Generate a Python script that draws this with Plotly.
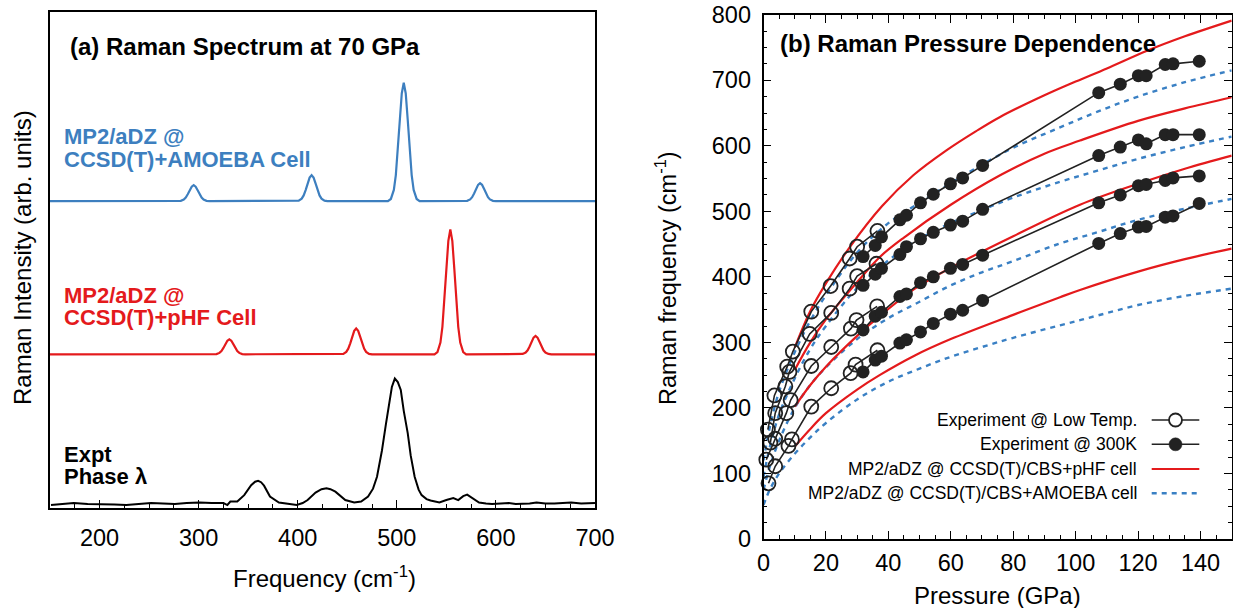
import plotly.graph_objects as go

W, H = 1233, 608

# ---------------- Panel (a): Raman spectra at 70 GPa ----------------
# AMOEBA-cell spectrum (intensity above its own baseline)
amoeba_freq = [150, 279, 282, 285, 287, 289, 291, 293, 295, 297, 299, 301, 303, 305, 308, 311,
               398, 401, 404, 406, 408, 410, 412, 414, 416, 418, 420, 422, 424, 427, 430,
               491, 494, 497, 499, 501, 503, 505, 507, 509, 511, 513, 515, 517, 520, 523,
               568, 571, 574, 576, 578, 580, 582, 584, 586, 588, 590, 592, 594, 597, 600, 700]
amoeba_int = [0, 0, 0.06, 0.30, 0.70, 1.37, 2.19, 2.91, 3.2, 2.91, 2.19, 1.37, 0.70, 0.30, 0.06, 0,
              0, 0.09, 0.49, 1.14, 2.22, 3.56, 4.73, 5.2, 4.73, 3.56, 2.22, 1.14, 0.49, 0.09, 0,
              0, 0.43, 2.25, 5.26, 10.2, 16.4, 21.7, 23.9, 21.7, 16.4, 10.2, 5.26, 2.25, 0.43, 0,
              0, 0.06, 0.34, 0.79, 1.54, 2.47, 3.28, 3.6, 3.28, 2.47, 1.54, 0.79, 0.34, 0.06, 0, 0]

# pHF-cell spectrum
phf_freq = [150, 315, 318, 321, 323, 325, 327, 329, 331, 333, 335, 337, 339, 341, 344, 347,
            443, 446, 449, 451, 453, 455, 457, 459, 461, 463, 465, 467, 469, 472, 475,
            538, 541, 544, 546, 548, 550, 552, 554, 556, 558, 560, 562, 564, 567, 570,
            624, 627, 630, 632, 634, 636, 638, 640, 642, 644, 646, 648, 650, 653, 656, 700]
phf_int = [0, 0, 0.05, 0.28, 0.66, 1.28, 2.06, 2.73, 3.0, 2.73, 2.06, 1.28, 0.66, 0.28, 0.05, 0,
           0, 0.09, 0.49, 1.14, 2.22, 3.56, 4.73, 5.2, 4.73, 3.56, 2.22, 1.14, 0.49, 0.09, 0,
           0, 0.45, 2.37, 5.54, 10.8, 17.3, 22.9, 25.2, 22.9, 17.3, 10.8, 5.54, 2.37, 0.45, 0,
           0, 0.07, 0.35, 0.81, 1.58, 2.53, 3.37, 3.7, 3.37, 2.53, 1.58, 0.81, 0.35, 0.07, 0, 0]

# Experimental spectrum, phase lambda
expt_freq = [151, 162, 174, 188, 202, 215, 227, 240, 252, 264, 276, 288, 301, 313, 325, 329, 332,
             339, 346, 353, 357, 360, 363, 366, 372, 381, 392, 399, 405, 410, 418, 424, 429, 433,
             438, 448, 457, 464, 471, 476, 480, 485, 489, 492, 495, 498, 501, 504, 507, 511, 514,
             518, 522, 525, 530, 534, 543, 550, 557, 562, 567, 571, 574, 578, 583, 590, 596, 605,
             613, 620, 627, 634, 641, 650, 659, 668, 676, 686, 697, 700]
expt_int = [0.5, 0.7, 0.9, 0.7, 0.7, 0.6, 0.5, 0.7, 0.9, 0.8, 0.7, 0.9, 1.0, 0.9, 0.9, 0.5, 1.2,
            1.2, 2.5, 4.5, 5.2, 5.4, 5.1, 4.4, 2.2, 1.0, 0.7, 0.5, 0.9, 1.5, 3.0, 3.7, 3.9, 3.7,
            3.2, 1.5, 1.0, 1.2, 2.2, 3.8, 6.2, 11.5, 16.8, 21.0, 24.3, 26.0, 25.3, 23.7, 19.5, 15.0, 10.5,
            6.2, 3.6, 2.5, 1.7, 1.4, 1.0, 1.5, 1.9, 1.5, 2.3, 2.6, 2.2, 1.8, 1.0, 0.8, 0.7, 0.8,
            0.9, 0.7, 0.7, 0.8, 1.0, 0.8, 0.8, 0.9, 1.0, 0.8, 0.9, 0.9]

# ---------------- Panel (b): pressure dependence ----------------
# Experiment, low temperature (open circles), four modes A (highest) .. D (lowest)
lt_A_p = [1.4, 3.5, 7.6, 9.4, 15.3, 21.5, 27.6, 30.0, 36.5]
lt_A_f = [167, 219, 263, 286, 347, 386, 428, 446, 470]
lt_B_p = [2.2, 3.75, 7.0, 8.3, 14.8, 21.7, 27.6, 30.0, 36.2]
lt_B_f = [147, 192, 233, 255, 313, 345, 382, 401, 420]
lt_C_p = [0.9, 3.75, 7.3, 8.7, 15.3, 21.7, 28.0, 29.8, 36.4]
lt_C_f = [121, 153, 192, 212, 264, 293, 321, 334, 355]
lt_D_p = [1.6, 3.75, 8.0, 9.1, 15.3, 21.7, 27.9, 29.5, 36.5]
lt_D_f = [85, 111, 142, 152, 202, 230, 253, 266, 288]

# Experiment, 300 K (filled circles)
rt_p = [31.9, 35.8, 37.8, 43.7, 45.8, 50.3, 54.4, 59.9, 63.8, 70.2,
        107.4, 114.3, 120.1, 122.6, 128.7, 131.2, 139.6]
rt_A_f = [431, 448, 461, 487, 494, 513, 526, 542, 551, 570, 681, 694, 707, 707, 724, 725, 729]
rt_B_f = [387, 404, 413, 434, 446, 458, 468, 479, 485, 503, 585, 598, 609, 603, 617, 617, 617]
rt_C_f = [319, 340, 346, 370, 374, 391, 400, 413, 419, 433, 513, 525, 539, 541, 547, 551, 554]
rt_D_f = [255, 273, 279, 299, 304, 316, 329, 343, 349, 364, 451, 466, 476, 477, 491, 493, 512]

# MP2/aDZ @ CCSD(T)/CBS + pHF cell (red solid)
phf_A_p = [10, 15, 20, 27.6, 38, 48, 58.6, 68, 75.8, 90, 100, 110, 122.9, 135, 150]
phf_A_f = [292, 348, 390, 445, 508, 555, 593, 622, 644, 677, 698, 718, 745, 767, 791]
phf_B_p = [10, 15, 20, 30, 37.2, 45, 60, 75.8, 90, 101.4, 120, 135, 150]
phf_B_f = [258, 300, 335, 392, 430, 460, 510, 555, 588, 608, 638, 657, 674]
phf_C_p = [10, 15, 20, 30, 37.2, 48.5, 60, 80, 101.4, 120, 135, 150]
phf_C_f = [202, 235, 263, 310, 340, 382, 414, 462, 510, 542, 565, 585]
phf_D_p = [10, 15, 20, 30, 37.2, 48.5, 60, 80, 95, 101.4, 120, 135, 150]
phf_D_f = [141, 168, 192, 228, 250, 280, 305, 342, 369, 380, 408, 427, 443]

# MP2/aDZ @ CCSD(T)/CBS + AMOEBA cell (blue dotted)
amo_p = [0, 2, 5, 10, 15, 20, 30, 40, 50, 60, 70, 80, 95, 107, 120, 135, 150]
amo_A_f = [120, 170, 225, 285, 333, 372, 437, 482, 513, 543, 571, 597, 628, 652, 675, 697, 715]
amo_B_f = [95, 140, 190, 245, 290, 325, 383, 425, 458, 482, 502, 521, 545, 562, 580, 598, 614]
amo_C_f = [75, 110, 150, 200, 235, 262, 305, 337, 362, 387, 407, 424, 451, 468, 487, 504, 519]
amo_D_f = [52, 75, 100, 130, 155, 177, 213, 240, 260, 278, 293, 307, 326, 341, 357, 371, 382]

# ---------------- styling ----------------
FONT = "Liberation Sans, Arial, Helvetica, sans-serif"
BLUE_TXT = "#3d7fbf"
RED = "#e41a1c"
BLUE = "#3a80c4"
DARK = "#222222"
OFF_RED, OFF_BLUE = 30.9, 61.8   # vertical offsets of stacked spectra


def px(x):
    return x / W


def py(y):
    return 1 - y / H


fig = go.Figure()

# Panel (a) traces
fig.add_trace(go.Scatter(x=expt_freq, y=expt_int, mode="lines",
                         line=dict(color="black", width=2), xaxis="x", yaxis="y",
                         showlegend=False))
fig.add_trace(go.Scatter(x=phf_freq, y=[v + OFF_RED for v in phf_int], mode="lines",
                         line=dict(color=RED, width=2.2), xaxis="x", yaxis="y",
                         showlegend=False))
fig.add_trace(go.Scatter(x=amoeba_freq, y=[v + OFF_BLUE for v in amoeba_int], mode="lines",
                         line=dict(color=BLUE_TXT, width=2.2), xaxis="x", yaxis="y",
                         showlegend=False))

# Panel (b) theory curves
for p, f in [(amo_p, amo_A_f), (amo_p, amo_B_f), (amo_p, amo_C_f), (amo_p, amo_D_f)]:
    fig.add_trace(go.Scatter(x=p, y=f, mode="lines", line_shape="spline",
                             line=dict(color=BLUE, width=2.4, dash="5px,5px"),
                             xaxis="x2", yaxis="y2", showlegend=False))
for p, f in [(phf_A_p, phf_A_f), (phf_B_p, phf_B_f), (phf_C_p, phf_C_f), (phf_D_p, phf_D_f)]:
    fig.add_trace(go.Scatter(x=p, y=f, mode="lines", line_shape="spline",
                             line=dict(color=RED, width=2.2),
                             xaxis="x2", yaxis="y2", showlegend=False))

# Experiments
for p, f in [(lt_A_p, lt_A_f), (lt_B_p, lt_B_f), (lt_C_p, lt_C_f), (lt_D_p, lt_D_f)]:
    fig.add_trace(go.Scatter(x=p, y=f, mode="lines+markers",
                             line=dict(color=DARK, width=1.6),
                             marker=dict(symbol="circle-open", size=14,
                                         line=dict(color=DARK, width=1.8)),
                             cliponaxis=False, xaxis="x2", yaxis="y2", showlegend=False))
for f in [rt_A_f, rt_B_f, rt_C_f, rt_D_f]:
    fig.add_trace(go.Scatter(x=rt_p, y=f, mode="lines+markers",
                             line=dict(color=DARK, width=1.6),
                             marker=dict(symbol="circle", size=13, color=DARK),
                             cliponaxis=False, xaxis="x2", yaxis="y2", showlegend=False))

tickfont = dict(family=FONT, size=23.5, color="black")

fig.update_layout(
    width=W, height=H,
    margin=dict(l=0, r=0, t=0, b=0),
    paper_bgcolor="white", plot_bgcolor="white",
    font=dict(family=FONT, color="black"),
    showlegend=False,
    xaxis=dict(domain=[px(50), px(595)], range=[150, 700], dtick=100, tick0=0,
               ticks="inside", ticklen=8, tickwidth=1.3, tickcolor="black",
               minor=dict(ticks="inside", dtick=25, ticklen=4, tickwidth=1.1, tickcolor="black"),
               showline=True, linecolor="black", linewidth=1.6, mirror=True,
               showgrid=False, zeroline=False, tickfont=tickfont, ticklabelstandoff=8,
               automargin=False, anchor="y"),
    yaxis=dict(domain=[py(507.5), py(11.7)], range=[0, 100], showticklabels=False,
               ticks="", showline=True, linecolor="black", linewidth=1.6, mirror=True,
               showgrid=False, zeroline=False, automargin=False, anchor="x"),
    xaxis2=dict(domain=[px(763.5), px(1231.7)], range=[0, 150], dtick=20, tick0=0,
                ticks="inside", ticklen=8, tickwidth=1.3, tickcolor="black",
                minor=dict(ticks="inside", dtick=5, ticklen=4, tickwidth=1.1, tickcolor="black"),
                showline=True, linecolor="black", linewidth=1.6, mirror="allticks",
                showgrid=False, zeroline=False, tickfont=tickfont, ticklabelstandoff=2,
                automargin=False, anchor="y2"),
    yaxis2=dict(domain=[py(539), py(14.7)], range=[0, 800], dtick=100, tick0=0,
                ticks="inside", ticklen=8, tickwidth=1.3, tickcolor="black",
                minor=dict(ticks="inside", dtick=25, ticklen=4, tickwidth=1.1, tickcolor="black"),
                showline=True, linecolor="black", linewidth=1.6, mirror="allticks",
                showgrid=False, zeroline=False, tickfont=tickfont, ticklabelstandoff=6,
                automargin=False, anchor="x2"),
)

ann = []


def text(x, y, s, size, color="black", xanchor="left", angle=0):
    ann.append(dict(x=px(x), y=py(y), xref="paper", yref="paper", text=s, showarrow=False,
                    xanchor=xanchor, yanchor="middle", textangle=angle,
                    font=dict(family=FONT, size=size, color=color)))


# Panel titles and labels
text(68, 46.7, "<b>(a) Raman Spectrum at 70 GPa</b>", 24)
text(778, 43, "<b>(b) Raman Pressure Dependence</b>", 24)
text(62, 137, "<b>MP2/aDZ @</b>", 22, BLUE_TXT)
text(62, 159.5, "<b>CCSD(T)+AMOEBA Cell</b>", 22, BLUE_TXT)
text(62, 295, "<b>MP2/aDZ @</b>", 22, RED)
text(62, 317.5, "<b>CCSD(T)+pHF Cell</b>", 22, RED)
text(62, 454, "<b>Expt</b>", 22)
text(62, 476, "<b>Phase λ</b>", 22)

# Axis titles
text(22, 258, "Raman Intensity (arb. units)", 24, xanchor="center", angle=-90)
text(324, 577, "Frequency (cm<sup>-1</sup>)", 24, xanchor="center")
text(666, 278, "Raman frequency (cm<sup>-1</sup>)", 23.5, xanchor="center", angle=-90)
text(997, 595.5, "Pressure (GPa)", 24, xanchor="center")

# Custom legend (text left, sample right)
leg_rows = [420, 444.3, 469, 493.3]
leg_labels = ["Experiment @ Low Temp.", "Experiment @ 300K",
              "MP2/aDZ @ CCSD(T)/CBS+pHF cell", "MP2/aDZ @ CCSD(T)/CBS+AMOEBA cell"]
for yy, lab in zip(leg_rows, leg_labels):
    text(1139, yy, lab, 17.5, xanchor="right")

shapes = []
x0, x1, xc = 1151.7, 1199.3, 1175.5
shapes.append(dict(type="line", xref="paper", yref="paper", x0=px(x0), x1=px(x1),
                   y0=py(leg_rows[0]), y1=py(leg_rows[0]), line=dict(color=DARK, width=1.6)))
shapes.append(dict(type="circle", xref="paper", yref="paper", x0=px(xc - 6.5), x1=px(xc + 6.5),
                   y0=py(leg_rows[0] + 6.5), y1=py(leg_rows[0] - 6.5),
                   fillcolor="white", line=dict(color=DARK, width=1.8)))
shapes.append(dict(type="line", xref="paper", yref="paper", x0=px(x0), x1=px(x1),
                   y0=py(leg_rows[1]), y1=py(leg_rows[1]), line=dict(color=DARK, width=1.6)))
shapes.append(dict(type="circle", xref="paper", yref="paper", x0=px(xc - 6.5), x1=px(xc + 6.5),
                   y0=py(leg_rows[1] + 6.5), y1=py(leg_rows[1] - 6.5),
                   fillcolor=DARK, line=dict(color=DARK, width=0.5)))
shapes.append(dict(type="line", xref="paper", yref="paper", x0=px(x0), x1=px(x1),
                   y0=py(leg_rows[2]), y1=py(leg_rows[2]), line=dict(color=RED, width=2.2)))
shapes.append(dict(type="line", xref="paper", yref="paper", x0=px(x0), x1=px(x1),
                   y0=py(leg_rows[3]), y1=py(leg_rows[3]),
                   line=dict(color=BLUE, width=2.4, dash="5px,5px")))

fig.update_layout(annotations=ann, shapes=shapes)
fig.write_html("out.html",
               config={"displayModeBar": False},
               post_script="document.body.style.margin='0px';"
                           "document.body.style.overflow='hidden';")
